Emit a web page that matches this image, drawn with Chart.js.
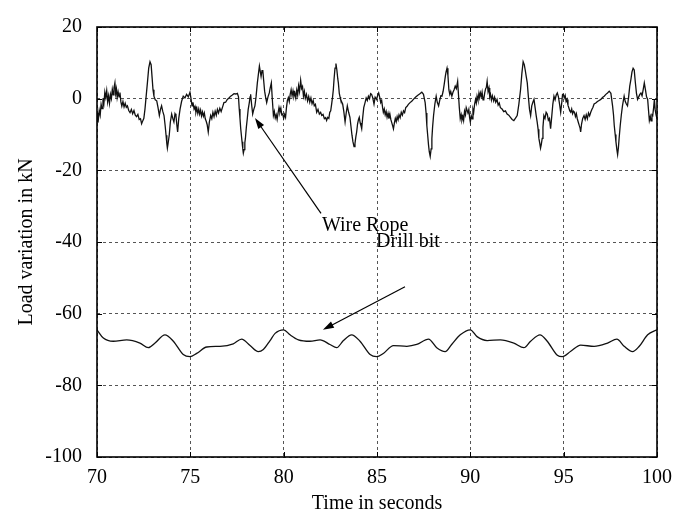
<!DOCTYPE html>
<html>
<head>
<meta charset="utf-8">
<script src="https://cdn.jsdelivr.net/npm/chart.js@4.4.1/dist/chart.umd.min.js"></script>
<style>
  body { margin: 0; background: #fff; }
  canvas { display: block; }
</style>
</head>
<body>
<canvas id="myChart" width="690" height="517"></canvas>
<script>
const timeTicks = [70, 75, 80, 85, 90, 95, 100];
const loadTicks = [-100, -80, -60, -40, -20, 0, 20];

// wire rope load (10 points per row)
const wireTime = [
  70.00, 70.04, 70.08, 70.12, 70.17, 70.22, 70.27, 70.32, 70.37, 70.42,
  70.47, 70.52, 70.57, 70.62, 70.67, 70.72, 70.77, 70.82, 70.87, 70.91,
  70.96, 71.00, 71.04, 71.08, 71.13, 71.18, 71.23, 71.28, 71.33, 71.39,
  71.45, 71.51, 71.57, 71.63, 71.70, 71.77, 71.84, 71.91, 71.98, 72.05,
  72.12, 72.19, 72.26, 72.33, 72.39, 72.45, 72.51, 72.57, 72.63, 72.70,
  72.77, 72.84, 72.90, 72.95, 73.00, 73.05, 73.12, 73.20, 73.27, 73.34,
  73.40, 73.46, 73.52, 73.59, 73.65, 73.70, 73.74, 73.77, 73.81, 73.87,
  73.93, 74.00, 74.06, 74.12, 74.18, 74.23, 74.28, 74.32, 74.38, 74.45,
  74.53, 74.62, 74.71, 74.80, 74.89, 74.98, 75.03, 75.09, 75.14, 75.20,
  75.25, 75.30, 75.35, 75.40, 75.45, 75.50, 75.55, 75.60, 75.65, 75.70,
  75.75, 75.80, 75.85, 75.90, 75.96, 76.02, 76.09, 76.15, 76.21, 76.27,
  76.33, 76.39, 76.45, 76.51, 76.58, 76.65, 76.73, 76.80, 76.89, 76.98,
  77.07, 77.16, 77.25, 77.34, 77.43, 77.52, 77.58, 77.62, 77.66, 77.70,
  77.74, 77.77, 77.81, 77.84, 77.88, 77.92, 77.95, 78.00, 78.05, 78.10,
  78.16, 78.20, 78.23, 78.28, 78.34, 78.40, 78.46, 78.52, 78.59, 78.65,
  78.70, 78.75, 78.79, 78.84, 78.88, 78.93, 78.98, 79.03, 79.09, 79.16,
  79.23, 79.28, 79.34, 79.39, 79.45, 79.50, 79.55, 79.60, 79.65, 79.70,
  79.75, 79.80, 79.85, 79.90, 79.95, 80.00, 80.05, 80.10, 80.15, 80.20,
  80.25, 80.30, 80.35, 80.40, 80.45, 80.50, 80.55, 80.60, 80.65, 80.70,
  80.75, 80.80, 80.85, 80.91, 80.96, 81.01, 81.06, 81.11, 81.16, 81.22,
  81.28, 81.34, 81.40, 81.46, 81.52, 81.58, 81.64, 81.70, 81.77, 81.84,
  81.91, 81.98, 82.04, 82.11, 82.18, 82.25, 82.30, 82.36, 82.42, 82.47,
  82.52, 82.57, 82.62, 82.66, 82.70, 82.75, 82.80, 82.85, 82.90, 82.93,
  82.98, 83.02, 83.05, 83.10, 83.16, 83.22, 83.29, 83.35, 83.41, 83.48,
  83.55, 83.60, 83.66, 83.71, 83.77, 83.82, 83.87, 83.91, 83.96, 84.01,
  84.05, 84.10, 84.14, 84.18, 84.23, 84.29, 84.36, 84.42, 84.48, 84.54,
  84.60, 84.66, 84.71, 84.77, 84.84, 84.90, 84.98, 85.04, 85.09, 85.15,
  85.20, 85.25, 85.30, 85.34, 85.39, 85.44, 85.49, 85.54, 85.59, 85.64,
  85.69, 85.74, 85.79, 85.84, 85.88, 85.93, 85.98, 86.03, 86.08, 86.13,
  86.18, 86.24, 86.30, 86.36, 86.42, 86.48, 86.54, 86.60, 86.68, 86.77,
  86.86, 86.95, 87.06, 87.17, 87.28, 87.40, 87.49, 87.58, 87.63, 87.67,
  87.72, 87.76, 87.80, 87.85, 87.90, 87.94, 87.98, 88.03, 88.10, 88.17,
  88.23, 88.30, 88.36, 88.42, 88.48, 88.54, 88.60, 88.66, 88.70, 88.75,
  88.80, 88.85, 88.90, 88.95, 89.01, 89.07, 89.13, 89.19, 89.25, 89.32,
  89.36, 89.41, 89.46, 89.51, 89.55, 89.60, 89.64, 89.69, 89.74, 89.78,
  89.82, 89.87, 89.92, 89.96, 90.00, 90.05, 90.10, 90.14, 90.18, 90.23,
  90.28, 90.32, 90.36, 90.41, 90.46, 90.50, 90.54, 90.59, 90.63, 90.68,
  90.72, 90.77, 90.82, 90.86, 90.90, 90.95, 91.00, 91.04, 91.08, 91.13,
  91.18, 91.25, 91.30, 91.36, 91.43, 91.49, 91.55, 91.61, 91.70, 91.79,
  91.88, 91.97, 92.06, 92.15, 92.24, 92.33, 92.42, 92.51, 92.60, 92.69,
  92.76, 92.83, 92.89, 92.94, 93.00, 93.05, 93.11, 93.17, 93.23, 93.29,
  93.35, 93.41, 93.47, 93.53, 93.58, 93.63, 93.67, 93.72, 93.76, 93.80,
  93.85, 93.89, 93.94, 94.00, 94.06, 94.12, 94.18, 94.24, 94.30, 94.36,
  94.42, 94.48, 94.54, 94.60, 94.66, 94.72, 94.78, 94.84, 94.90, 94.94,
  94.98, 95.03, 95.08, 95.13, 95.18, 95.23, 95.28, 95.33, 95.38, 95.43,
  95.48, 95.53, 95.58, 95.63, 95.68, 95.73, 95.78, 95.83, 95.88, 95.91,
  95.96, 96.02, 96.09, 96.15, 96.21, 96.27, 96.33, 96.39, 96.45, 96.51,
  96.57, 96.63, 96.72, 96.81, 96.90, 96.99, 97.08, 97.17, 97.26, 97.35,
  97.44, 97.53, 97.62, 97.67, 97.71, 97.76, 97.80, 97.85, 97.89, 97.93,
  97.97, 98.03, 98.09, 98.15, 98.20, 98.24, 98.30, 98.36, 98.42, 98.48,
  98.54, 98.60, 98.66, 98.72, 98.78, 98.84, 98.90, 98.96, 99.02, 99.08,
  99.14, 99.20, 99.26, 99.32, 99.38, 99.44, 99.50, 99.55, 99.59, 99.64,
  99.68, 99.73, 99.77, 99.82, 99.86, 99.90, 99.95, 100.00
];
const wireLoad = [
  -6.5, -3.9, -5.4, -3.3, -4.6, -1.6, -2.8, 0.1, -1.3, 1.8,
  0.3, 2.2, -0.9, 0.8, -1.3, 1.2, 0.0, 2.6, 1.1, 3.0,
  4.4, 1.4, 2.7, 0.3, 1.9, 0.5, 1.7, -0.9, -2.1, -0.8,
  -2.3, -1.3, -2.4, -2.0, -3.3, -3.9, -3.0, -4.2, -3.3, -4.6,
  -5.0, -4.4, -5.8, -5.6, -7.0, -6.2, -5.5, -2.9, 0.5, 4.4,
  8.5, 10.3, 9.5, 6.0, 2.5, 0.7, -0.3, -0.6, -2.5, -4.7,
  -3.0, -2.0, -3.5, -4.7, -7.5, -10.2, -12.5, -13.8, -12.4, -10.2,
  -6.5, -4.3, -5.5, -6.5, -4.2, -4.7, -7.5, -9.3, -5.5, -2.9,
  -0.8, 0.7, 0.2, 1.2, 0.5, 1.8, 0.2, -2.0, -1.0, -2.9,
  -2.2, -3.8, -2.7, -4.1, -2.9, -4.3, -3.2, -4.8, -3.7, -4.9,
  -4.0, -5.6, -6.3, -7.2, -9.3, -6.5, -4.7, -5.6, -3.8, -5.0,
  -3.5, -4.6, -3.0, -4.0, -2.7, -3.6, -2.3, -1.1, -1.0, -0.2,
  0.2, 0.7, 1.0, 1.4, 1.3, 1.5, 0.5, -2.9, -5.5, -8.4,
  -10.5, -12.0, -14.0, -15.2, -14.2, -12.3, -11.1, -8.0, -5.6, -3.0,
  -1.1, 0.5, 1.2, -1.5, -4.3, -3.0, -2.0, 0.5, 4.4, 7.0,
  9.1, 7.5, 6.2, 7.8, 8.0, 5.0, 2.1, 0.5, -1.1, 0.5,
  1.6, 3.0, 4.4, 0.0, -4.7, -3.6, -5.4, -4.5, -5.8, -4.0,
  -2.5, -3.8, -2.7, -4.5, -4.3, -5.5, -4.4, -5.2, -2.5, -0.5,
  0.3, -0.8, 1.2, 2.5, 0.8, 2.2, 0.6, 1.6, 0.2, 2.4,
  1.0, 3.6, 2.0, 5.1, 2.8, 3.4, 0.7, 2.0, 0.1, 1.2,
  -0.6, 0.6, -1.0, 0.2, -1.4, -0.5, -2.0, -1.6, -3.8, -3.0,
  -4.3, -3.8, -4.7, -4.4, -5.6, -5.3, -6.1, -5.2, -5.5, -3.8,
  -3.4, -1.5, 0.5, 2.5, 5.5, 8.5, 9.8, 8.0, 5.5, 4.4,
  1.5, 0.5, -0.2, -0.8, -1.5, -3.5, -6.5, -4.0, -2.0, -3.8,
  -5.2, -7.5, -10.2, -12.0, -13.4, -12.5, -10.5, -9.3, -7.0, -5.8,
  -5.2, -6.8, -7.5, -8.4, -5.5, -2.5, -1.1, 0.2, -0.5, 0.7,
  0.0, 1.4, 1.2, 0.3, -1.5, 0.4, -0.2, 1.0, 1.6, 0.3,
  -1.1, -0.5, -2.5, -3.8, -2.9, -4.5, -3.6, -5.2, -4.1, -5.6,
  -4.3, -5.8, -6.7, -7.6, -8.4, -6.8, -5.5, -6.4, -5.0, -5.9,
  -4.5, -5.3, -3.8, -4.6, -3.4, -3.9, -2.5, -2.2, -1.6, -1.1,
  -0.7, -0.2, 0.4, 0.9, 1.3, 1.8, 1.2, -1.1, -4.0, -7.5,
  -10.5, -12.9, -14.8, -16.1, -14.0, -11.1, -7.8, -4.7, -1.5, 0.7,
  -1.0, -2.0, -0.5, 0.8, 0.7, 2.0, 4.0, 6.2, 7.5, 8.5,
  6.5, 2.5, 1.2, 2.0, 0.7, 1.8, 2.5, 3.5, 2.8, 4.8,
  1.5, -2.5, -5.6, -4.5, -6.0, -5.0, -6.1, -3.5, -4.5, -2.5,
  -2.5, -4.0, -3.0, -5.2, -6.5, -4.8, -5.6, -3.0, -3.8, -1.5,
  -0.2, -1.2, 0.7, -0.4, 1.5, 0.3, 1.6, 0.6, 1.8, -0.3,
  -0.2, 1.6, 2.8, 3.2, 4.8, 2.0, 3.0, 0.5, 1.2, -0.4,
  0.8, -0.6, 0.4, -1.0, -0.2, -1.8, -1.2, -2.5, -2.9, -3.6,
  -3.4, -4.3, -4.6, -5.2, -5.8, -6.1, -5.4, -4.7, -1.5, 2.5,
  7.0, 10.3, 9.5, 8.0, 6.0, 4.4, 0.5, -3.0, -4.7, -2.0,
  -1.0, -0.2, -2.5, -4.8, -6.5, -8.5, -11.0, -12.5, -13.8, -12.8,
  -11.1, -8.0, -4.7, -5.5, -3.8, -4.3, -6.0, -5.5, -8.4, -5.0,
  -1.5, 0.7, -0.3, 1.0, 1.6, 0.5, -1.5, -3.8, -1.0, 1.2,
  1.2, 0.2, 0.9, -0.8, -0.2, -1.8, -2.6, -3.4, -3.8, -2.9,
  -4.2, -3.5, -3.8, -5.0, -4.2, -5.6, -6.5, -7.4, -8.2, -9.3,
  -7.0, -5.5, -4.7, -5.8, -4.5, -5.6, -4.0, -4.8, -3.8, -3.0,
  -2.4, -1.5, -1.2, -0.8, -0.5, -0.2, 0.3, 0.7, 1.2, 1.6,
  2.1, 1.5, -2.0, -4.5, -7.5, -10.0, -12.0, -14.2, -15.6, -13.8,
  -11.1, -7.5, -4.5, -2.0, -0.5, 0.7, -0.8, -1.5, -2.0, 0.5,
  3.5, 5.3, 7.5, 8.5, 8.0, 4.5, 1.5, -0.2, 0.5, 1.2,
  1.6, 0.8, 2.5, 4.4, 2.5, 0.5, -0.2, -3.5, -6.1, -5.0,
  -6.2, -4.5, -4.7, -2.5, -0.2, -3.0, -4.5, -5.6
];

// drill bit load
const drillTime = [
  70.00, 70.34, 70.87, 71.59, 72.30, 72.75, 73.11, 73.64, 74.09, 74.62,
  74.98, 75.34, 75.88, 76.59, 77.30, 77.75, 78.20, 78.64, 78.91, 79.27,
  79.54, 80.00, 80.34, 80.79, 81.41, 81.95, 82.48, 82.84, 83.20, 83.64,
  84.09, 84.63, 84.98, 85.34, 85.88, 86.60, 87.13, 87.76, 88.20, 88.65,
  89.00, 89.46, 90.00, 90.36, 90.90, 91.61, 92.33, 92.87, 93.23, 93.73,
  94.12, 94.66, 94.93, 95.38, 95.91, 96.63, 97.35, 97.85, 98.24, 98.69,
  99.05, 99.50, 100.00
];
const drillLoad = [
  -64.5, -66.8, -67.7, -67.3, -68.2, -69.5, -68.2, -65.9, -67.7, -71.4,
  -72.0, -71.1, -69.3, -69.1, -68.4, -67.1, -68.9, -70.6, -70.0, -67.5,
  -65.5, -64.5, -65.9, -67.3, -67.7, -67.3, -68.6, -69.5, -67.5, -65.9,
  -67.7, -71.4, -72.0, -71.1, -68.9, -69.1, -68.6, -67.1, -69.5, -70.6,
  -68.6, -65.9, -64.5, -66.4, -67.5, -67.3, -68.2, -69.5, -67.7, -65.9,
  -67.7, -71.6, -72.0, -70.5, -68.8, -69.1, -68.2, -67.1, -69.1, -70.6,
  -69.1, -65.9, -64.5
];

// text labels with arrows, in data units
const notes = [
  { text: 'Wire Rope', align: 'left', at: [82.05, -35.6], from: [82.0, -32.0], to: [78.46, -5.4] },
  { text: 'Drill bit', align: 'center', at: [86.66, -40.0], from: [86.5, -52.5], to: [82.1, -64.5] }
];

const FONT = '"Liberation Serif", "Times New Roman", serif';

function toPoints(xs, ys) {
  const n = Math.min(xs.length, ys.length);
  const out = [];
  for (let i = 0; i < n; i++) out.push({ x: xs[i], y: ys[i] });
  return out;
}

function drawArrow(ctx, x1, y1, x2, y2) {
  const ang = Math.atan2(y2 - y1, x2 - x1);
  const len = 11, half = 3.5;
  ctx.beginPath();
  ctx.moveTo(x1, y1);
  ctx.lineTo(x2 - Math.cos(ang) * len * 0.8, y2 - Math.sin(ang) * len * 0.8);
  ctx.stroke();
  ctx.beginPath();
  ctx.moveTo(x2, y2);
  ctx.lineTo(x2 - Math.cos(ang) * len - Math.sin(ang) * half, y2 - Math.sin(ang) * len + Math.cos(ang) * half);
  ctx.lineTo(x2 - Math.cos(ang) * len + Math.sin(ang) * half, y2 - Math.sin(ang) * len - Math.cos(ang) * half);
  ctx.closePath();
  ctx.fill();
}

const framePlugin = {
  id: 'frame',
  afterDraw(chart) {
    const { ctx, chartArea: a, scales } = chart;
    const x = scales.x, y = scales.y;
    ctx.save();

    // inward tick marks on all sides
    ctx.strokeStyle = '#000';
    ctx.lineWidth = 1;
    ctx.beginPath();
    timeTicks.forEach(v => {
      const px = Math.round(x.getPixelForValue(v)) + 0.5;
      ctx.moveTo(px, a.bottom); ctx.lineTo(px, a.bottom - 5);
      ctx.moveTo(px, a.top); ctx.lineTo(px, a.top + 5);
    });
    loadTicks.forEach(v => {
      const py = Math.round(y.getPixelForValue(v)) + 0.5;
      ctx.moveTo(a.left, py); ctx.lineTo(a.left + 5, py);
      ctx.moveTo(a.right, py); ctx.lineTo(a.right - 5, py);
    });
    ctx.stroke();

    ctx.lineWidth = 1.6;
    ctx.strokeRect(a.left, a.top, a.right - a.left, a.bottom - a.top);

    // annotations
    ctx.fillStyle = '#000';
    ctx.strokeStyle = '#000';
    ctx.lineWidth = 1.2;
    ctx.font = '20px ' + FONT;
    ctx.textBaseline = 'middle';
    notes.forEach(n => {
      ctx.textAlign = n.align;
      ctx.fillText(n.text, x.getPixelForValue(n.at[0]), y.getPixelForValue(n.at[1]));
      drawArrow(ctx,
        x.getPixelForValue(n.from[0]), y.getPixelForValue(n.from[1]),
        x.getPixelForValue(n.to[0]), y.getPixelForValue(n.to[1]));
    });
    ctx.restore();
  }
};

const ctx = document.getElementById('myChart').getContext('2d');
const chart = new Chart(ctx, {
  type: 'line',
  data: {
    datasets: [
      {
        label: 'Wire Rope',
        data: toPoints(wireTime, wireLoad),
        borderColor: '#111',
        borderWidth: 1.3,
        pointRadius: 0,
        tension: 0,
        fill: false
      },
      {
        label: 'Drill bit',
        data: toPoints(drillTime, drillLoad),
        borderColor: '#111',
        borderWidth: 1.3,
        pointRadius: 0,
        cubicInterpolationMode: 'monotone',
        fill: false
      }
    ]
  },
  options: {
    responsive: false,
    animation: false,
    devicePixelRatio: 1,
    layout: { padding: { top: 15, right: 33, bottom: 0, left: 0 } },
    plugins: {
      legend: { display: false },
      tooltip: { enabled: false }
    },
    scales: {
      x: {
        type: 'linear',
        min: 70,
        max: 100,
        afterBuildTicks: s => { s.ticks = timeTicks.map(v => ({ value: v })); },
        afterFit: s => { s.height = 60; },
        border: { display: false, dash: [3, 3] },
        grid: { color: '#555', lineWidth: 1, drawTicks: false },
        ticks: {
          color: '#000',
          padding: 9,
          maxRotation: 0,
          font: { family: FONT, size: 20 },
          callback: v => String(v)
        },
        title: {
          display: true,
          text: 'Time in seconds',
          color: '#000',
          font: { family: FONT, size: 20 },
          padding: { top: 0, bottom: 1 }
        }
      },
      y: {
        min: -100,
        max: 20,
        afterBuildTicks: s => { s.ticks = loadTicks.map(v => ({ value: v })); },
        afterFit: s => { s.width = 97; },
        border: { display: false, dash: [3, 3] },
        grid: { color: '#555', lineWidth: 1, drawTicks: false },
        ticks: {
          color: '#000',
          padding: 15,
          font: { family: FONT, size: 20 },
          callback: v => String(v)
        },
        title: {
          display: true,
          text: 'Load variation in kN',
          color: '#000',
          font: { family: FONT, size: 20 },
          padding: { top: 15, bottom: 0 }
        }
      }
    }
  },
  plugins: [framePlugin]
});
</script>
</body>
</html>
